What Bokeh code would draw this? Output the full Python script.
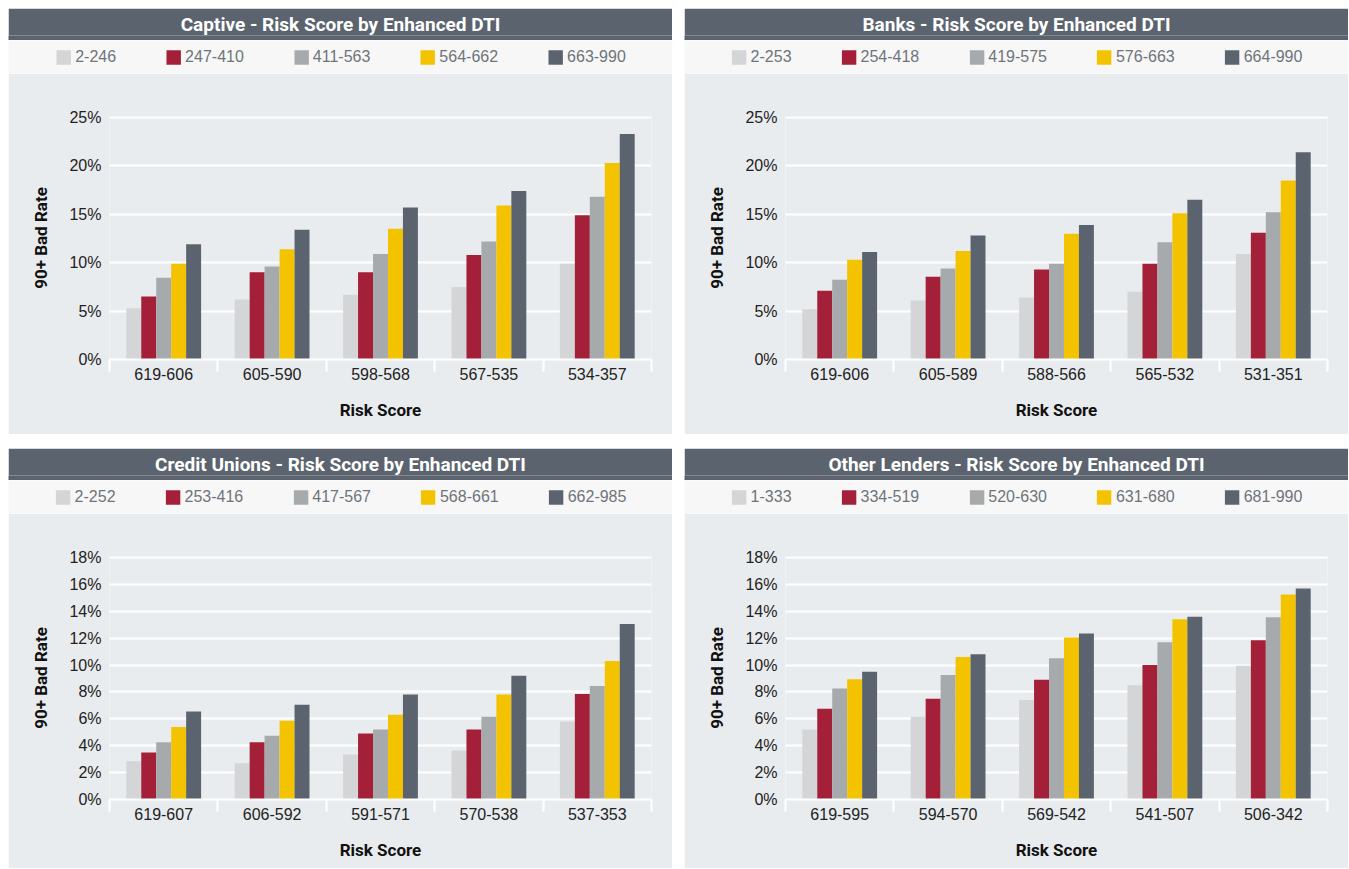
from bokeh.plotting import figure
from bokeh.models import (ColumnDataSource, Range1d, FixedTicker,
                          PrintfTickFormatter, Legend, LegendItem)
from bokeh.layouts import column, row
from bokeh.transform import dodge
from bokeh.embed import file_html
from bokeh.resources import INLINE

# ---------------- data ----------------
captive_title = "Captive - Risk Score by Enhanced DTI"
captive_scores = ["619-606", "605-590", "598-568", "567-535", "534-357"]
captive_bands = ["2-246", "247-410", "411-563", "564-662", "663-990"]
captive_b1 = [5.3, 6.2, 6.7, 7.5, 9.9]
captive_b2 = [6.5, 9.0, 9.0, 10.8, 14.9]
captive_b3 = [8.45, 9.6, 10.9, 12.2, 16.8]
captive_b4 = [9.9, 11.4, 13.5, 15.9, 20.3]
captive_b5 = [11.9, 13.4, 15.7, 17.4, 23.3]
captive_yticks = [0, 5, 10, 15, 20, 25]

banks_title = "Banks - Risk Score by Enhanced DTI"
banks_scores = ["619-606", "605-589", "588-566", "565-532", "531-351"]
banks_bands = ["2-253", "254-418", "419-575", "576-663", "664-990"]
banks_b1 = [5.2, 6.1, 6.4, 7.0, 10.9]
banks_b2 = [7.1, 8.55, 9.3, 9.9, 13.1]
banks_b3 = [8.25, 9.4, 9.9, 12.1, 15.2]
banks_b4 = [10.3, 11.2, 13.0, 15.1, 18.5]
banks_b5 = [11.1, 12.8, 13.9, 16.5, 21.4]
banks_yticks = [0, 5, 10, 15, 20, 25]

cu_title = "Credit Unions - Risk Score by Enhanced DTI"
cu_scores = ["619-607", "606-592", "591-571", "570-538", "537-353"]
cu_bands = ["2-252", "253-416", "417-567", "568-661", "662-985"]
cu_b1 = [2.85, 2.7, 3.35, 3.65, 5.8]
cu_b2 = [3.5, 4.25, 4.9, 5.2, 7.85]
cu_b3 = [4.25, 4.75, 5.2, 6.15, 8.45]
cu_b4 = [5.4, 5.85, 6.3, 7.8, 10.3]
cu_b5 = [6.55, 7.05, 7.8, 9.2, 13.05]
cu_yticks = [0, 2, 4, 6, 8, 10, 12, 14, 16, 18]

other_title = "Other Lenders - Risk Score by Enhanced DTI"
other_scores = ["619-595", "594-570", "569-542", "541-507", "506-342"]
other_bands = ["1-333", "334-519", "520-630", "631-680", "681-990"]
other_b1 = [5.2, 6.15, 7.4, 8.5, 9.95]
other_b2 = [6.75, 7.5, 8.9, 10.0, 11.85]
other_b3 = [8.25, 9.25, 10.5, 11.7, 13.55]
other_b4 = [8.95, 10.6, 12.05, 13.4, 15.25]
other_b5 = [9.5, 10.8, 12.35, 13.6, 15.7]
other_yticks = [0, 2, 4, 6, 8, 10, 12, 14, 16, 18]

# ---------------- style ----------------
COLORS = ["#d3d5d6", "#a41f38", "#a7aaad", "#f3c300", "#5b646e"]
HEADER_BG = "#5b646e"
STRIP_BG = "#f7f7f7"
PANEL_BG = "#e9ecee"
FONT = "Liberation Sans"
BOLD_FONT = "Roboto"
PANEL_W = 664
FRAME_W = 542
BAR_W = 0.138
OFFSETS = [-2 * BAR_W, -BAR_W, 0.0, BAR_W, 2 * BAR_W]


def no_align(fig):
    if "frame_align" in fig.properties():
        fig.frame_align = False


def make_panel(title, scores, bands, series, yticks, bottom_space):
    n = len(scores)
    data = {"score": scores, "pos": list(range(n))}
    for i, s in enumerate(series):
        data["s%d" % i] = s
    src = ColumnDataSource(data)

    # title bar
    t = figure(frame_width=PANEL_W, frame_height=5,
               x_axis_location=None, y_axis_location=None,
               toolbar_location=None, output_backend="svg",
               min_border_left=0, min_border_right=0,
               min_border_top=27, min_border_bottom=0,
               background_fill_color=HEADER_BG, border_fill_color=HEADER_BG,
               outline_line_color=None, title=title)
    no_align(t)
    t.grid.visible = False
    t.title.text_color = "white"
    t.title.text_font = BOLD_FONT
    t.title.text_font_style = "bold"
    t.title.text_font_size = "19px"
    t.title.align = "center"
    t.title.standoff = 0

    # legend strip (keys are the same bar glyphs, kept outside the visible range)
    h = figure(frame_width=PANEL_W, frame_height=33,
               x_range=Range1d(-0.5, n - 0.5), y_range=Range1d(1000, 1001),
               x_axis_location=None, y_axis_location=None,
               toolbar_location=None, output_backend="svg",
               min_border_left=0, min_border_right=0,
               min_border_top=0, min_border_bottom=0,
               background_fill_color=STRIP_BG, border_fill_color=STRIP_BG,
               outline_line_color=None)
    no_align(h)
    h.grid.visible = False
    items = []
    for i, band in enumerate(bands):
        r = h.vbar(x=dodge("pos", OFFSETS[i]), top="s%d" % i, width=BAR_W,
                   source=src, fill_color=COLORS[i], line_color=None)
        items.append(LegendItem(label=band, renderers=[r]))
    legend = Legend(items=items, location="center", orientation="horizontal",
                    background_fill_alpha=0, border_line_color=None,
                    margin=0, padding=0, spacing=48,
                    glyph_width=18, glyph_height=18, label_standoff=3,
                    label_text_font=FONT, label_text_font_size="16px",
                    label_text_color="#6f747a")
    h.add_layout(legend, "center")

    # main chart (x in category index units, labelled with the categories)
    ymax = yticks[-1]
    p = figure(frame_width=FRAME_W, frame_height=243,
               x_range=Range1d(-0.5, n - 0.5), y_range=Range1d(0, ymax * 1.004),
               toolbar_location=None, output_backend="svg",
               min_border_left=101, min_border_right=PANEL_W - FRAME_W - 101,
               min_border_top=43, min_border_bottom=bottom_space,
               background_fill_color=PANEL_BG, border_fill_color=PANEL_BG,
               outline_line_color=None)
    no_align(p)
    for i in range(len(series)):
        p.vbar(x=dodge("pos", OFFSETS[i]), top="s%d" % i,
               width=BAR_W, source=src, fill_color=COLORS[i], line_color=None)

    ya = p.yaxis[0]
    ya.ticker = FixedTicker(ticks=yticks)
    ya.formatter = PrintfTickFormatter(format="%d%%")
    ya.axis_line_color = None
    ya.major_tick_line_color = None
    ya.minor_tick_line_color = None
    ya.major_tick_out = 0
    ya.minor_tick_out = 0
    ya.major_label_standoff = 8
    ya.major_label_text_font = FONT
    ya.major_label_text_font_size = "16px"
    ya.major_label_text_color = "#222222"
    ya.axis_label = "90+ Bad Rate"
    ya.axis_label_text_font = BOLD_FONT
    ya.axis_label_text_font_style = "bold"
    ya.axis_label_text_font_size = "17px"
    ya.axis_label_text_color = "#111111"
    ya.axis_label_standoff = 15

    p.ygrid.grid_line_color = "white"
    p.ygrid.grid_line_width = 2
    p.xgrid.visible = False

    xa = p.xaxis[0]
    xa.ticker = FixedTicker(ticks=list(range(n)),
                           minor_ticks=[i - 0.5 for i in range(n + 1)])
    xa.major_label_overrides = {i: s for i, s in enumerate(scores)}
    xa.axis_line_color = "white"
    xa.axis_line_width = 2
    xa.major_tick_line_color = None
    xa.major_tick_out = 0
    xa.major_tick_in = 0
    xa.minor_tick_line_color = "white"
    xa.minor_tick_line_width = 2
    xa.minor_tick_out = 12
    xa.minor_tick_in = 0
    xa.major_label_standoff = -4
    xa.major_label_text_font = FONT
    xa.major_label_text_font_size = "16px"
    xa.major_label_text_color = "#222222"
    xa.axis_label = "Risk Score"
    xa.axis_label_text_font = BOLD_FONT
    xa.axis_label_text_font_style = "bold"
    xa.axis_label_text_font_size = "17px"
    xa.axis_label_text_color = "#111111"
    xa.axis_label_standoff = 17

    return column(t, h, p, spacing=0)


c1 = make_panel(captive_title, captive_scores, captive_bands,
                [captive_b1, captive_b2, captive_b3, captive_b4, captive_b5], captive_yticks, 75)
c2 = make_panel(banks_title, banks_scores, banks_bands,
                [banks_b1, banks_b2, banks_b3, banks_b4, banks_b5], banks_yticks, 75)
c3 = make_panel(cu_title, cu_scores, cu_bands,
                [cu_b1, cu_b2, cu_b3, cu_b4, cu_b5], cu_yticks, 69)
c4 = make_panel(other_title, other_scores, other_bands,
                [other_b1, other_b2, other_b3, other_b4, other_b5], other_yticks, 69)

layout = column(row(c1, c2, spacing=12), row(c3, c4, spacing=12), spacing=14,
                margin=(8, 0, 0, 8))

open("out.html", "w").write(file_html(layout, INLINE))
